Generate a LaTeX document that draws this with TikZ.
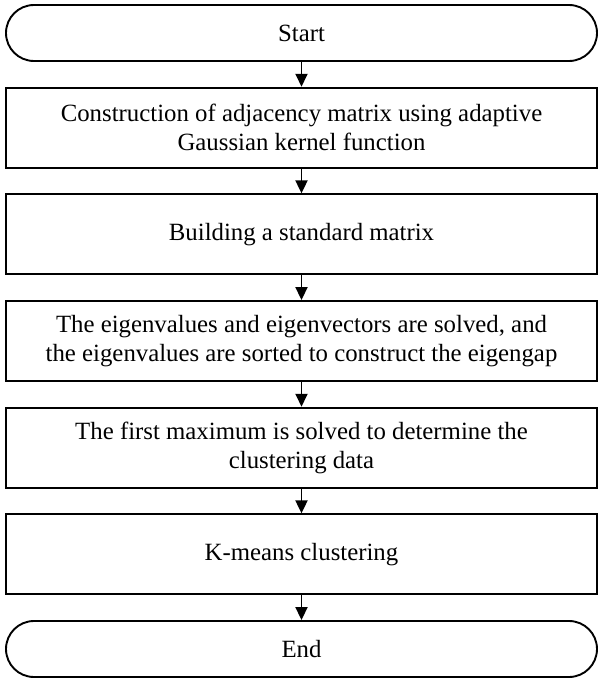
\documentclass[tikz,border=0pt]{standalone}
\usepackage{fontspec}
\setmainfont{Liberation Serif}
\usetikzlibrary{arrows.meta}
\tikzset{
  procbox/.style={draw=black, line width=1.9pt, rectangle, minimum width=591pt, minimum height=80pt, inner sep=0pt, align=center, font=\fontsize{24.8pt}{29pt}\selectfont},
  termbox/.style={procbox, minimum height=56pt, rounded corners=28pt},
  flowarrow/.style={draw=black, line width=1.9pt, -{Triangle[length=13pt,width=12pt]}}
}
\begin{document}
\begin{tikzpicture}[x=1pt,y=1pt]
\useasboundingbox (0,0) rectangle (603,-680);
\node[termbox] (start) at (301.5,-33) {Start};
\node[procbox] (adj) at (301.5,-127.7) {Construction of adjacency matrix using adaptive\\Gaussian kernel function};
\node[procbox] (std) at (301.5,-234.3) {Building a standard matrix};
\node[procbox] (eig) at (301.5,-341) {The eigenvalues and eigenvectors are solved, and\\the eigenvalues are sorted to construct the eigengap};
\node[procbox] (maxv) at (301.5,-447.7) {The first maximum is solved to determine the\\clustering data};
\node[procbox] (km) at (301.5,-554.3) {K-means clustering};
\node[termbox] (end) at (301.5,-649) {End};
\draw[flowarrow] (start) -- (adj);
\draw[flowarrow] (adj) -- (std);
\draw[flowarrow] (std) -- (eig);
\draw[flowarrow] (eig) -- (maxv);
\draw[flowarrow] (maxv) -- (km);
\draw[flowarrow] (km) -- (end);
\end{tikzpicture}
\end{document}
